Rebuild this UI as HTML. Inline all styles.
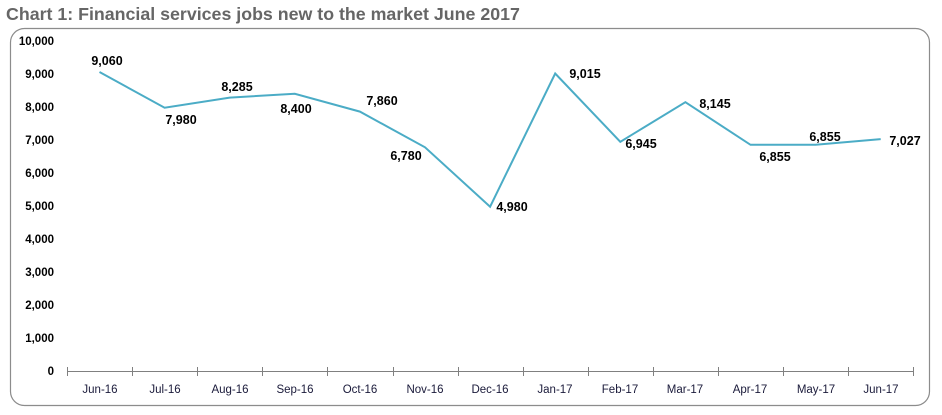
<!DOCTYPE html>
<html><head><style>
body{margin:0;background:#fff;width:942px;height:415px;overflow:hidden}
svg{display:block}
text{font-family:"Liberation Sans",sans-serif}
</style></head><body>
<svg width="942" height="415" xmlns="http://www.w3.org/2000/svg">
<text x="6" y="20" font-size="17.8" font-weight="bold" fill="#666">Chart 1: Financial services jobs new to the market June 2017</text>
<rect x="10.5" y="28.5" width="919" height="377" rx="14" fill="none" stroke="#8c8c8c" stroke-width="1.2"/>
<g font-size="11.5" font-weight="bold" fill="#000" text-anchor="end">
<text x="54" y="45">10,000</text><text x="54" y="78">9,000</text><text x="54" y="111">8,000</text>
<text x="54" y="144">7,000</text><text x="54" y="177">6,000</text><text x="54" y="210">5,000</text>
<text x="54" y="243">4,000</text><text x="54" y="276">3,000</text><text x="54" y="309">2,000</text>
<text x="54" y="342">1,000</text><text x="54" y="375">0</text>
</g>
<g stroke="#808080" stroke-width="1">
<line x1="67" y1="371.5" x2="913" y2="371.5"/>
<path d="M67.5 367v9M132.5 367v9M197.5 367v9M262.5 367v9M327.5 367v9M393.5 367v9M458.5 367v9M523.5 367v9M588.5 367v9M653.5 367v9M718.5 367v9M783.5 367v9M848.5 367v9M913.5 367v9"/>
</g>
<g font-size="11.5" fill="#1a1a3a" text-anchor="middle">
<text x="100" y="393">Jun-16</text><text x="165" y="393">Jul-16</text><text x="230" y="393">Aug-16</text>
<text x="295" y="393">Sep-16</text><text x="360" y="393">Oct-16</text><text x="425" y="393">Nov-16</text>
<text x="490" y="393">Dec-16</text><text x="555" y="393">Jan-17</text><text x="620" y="393">Feb-17</text>
<text x="685" y="393">Mar-17</text><text x="750" y="393">Apr-17</text><text x="816" y="393">May-17</text>
<text x="881" y="393">Jun-17</text>
</g>
<polyline fill="none" stroke="#4bacc6" stroke-width="2" points="99.5,72 164.6,107.7 229.7,97.6 294.8,93.8 359.9,111.6 425,147.3 490.1,206.7 555.2,73.5 620.3,141.8 685.4,102.2 750.5,144.8 815.6,144.8 880.7,139.1"/>
<g font-size="12.5" font-weight="bold" fill="#000" text-anchor="middle">
<text x="107" y="65">9,060</text>
<text x="181" y="124">7,980</text>
<text x="237" y="91">8,285</text>
<text x="296" y="113">8,400</text>
<text x="382" y="105">7,860</text>
<text x="406" y="160">6,780</text>
<text x="512" y="211">4,980</text>
<text x="585" y="78">9,015</text>
<text x="641" y="148">6,945</text>
<text x="715" y="108">8,145</text>
<text x="775" y="161">6,855</text>
<text x="825" y="141">6,855</text>
<text x="905" y="145">7,027</text>
</g>
</svg>
</body></html>
